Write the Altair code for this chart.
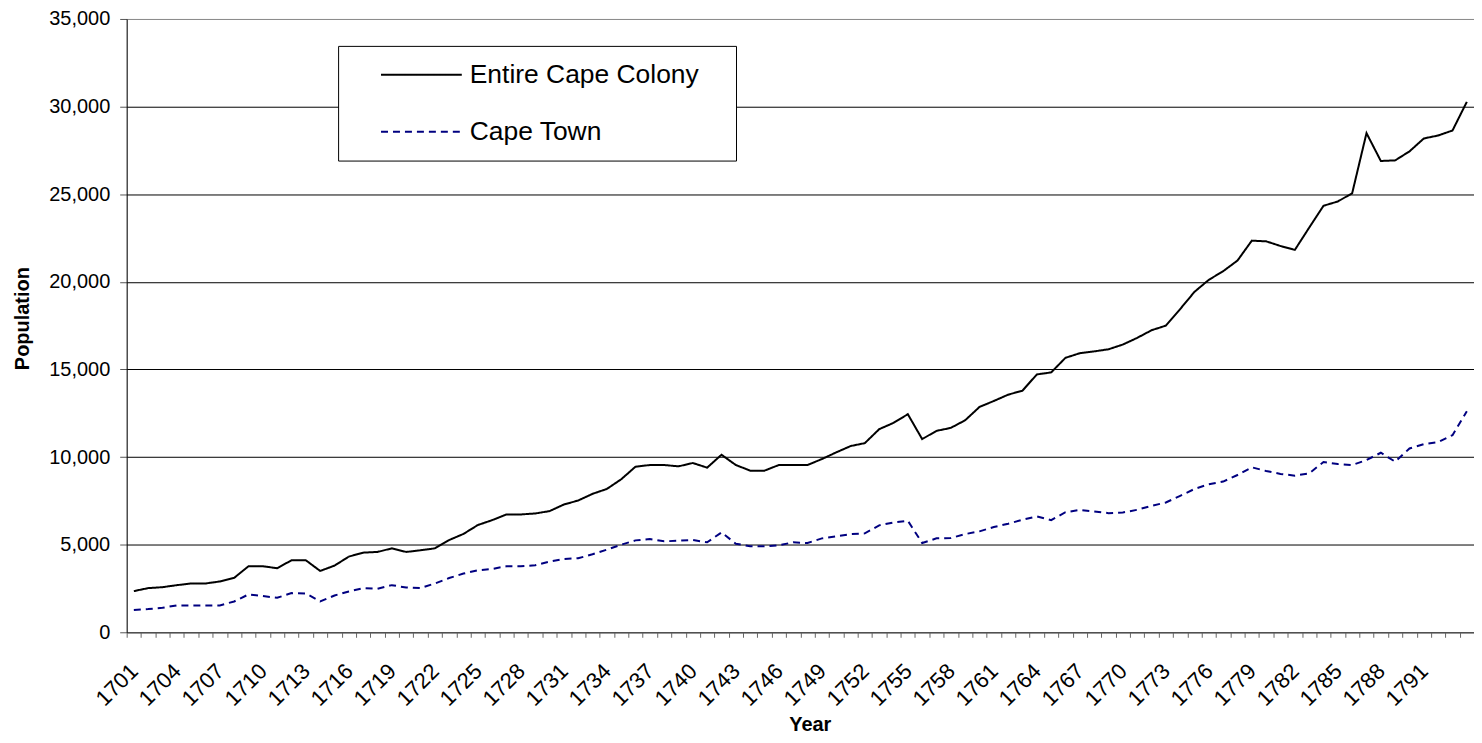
import altair as alt
import pandas as pd

years = list(range(1701, 1795))

colony = [2350, 2520, 2575, 2690, 2785, 2785, 2900, 3105, 3770, 3770,
          3655, 4110, 4110, 3500, 3805, 4320, 4545, 4585, 4790, 4585,
          4680, 4790, 5265, 5615, 6120, 6400, 6725, 6725, 6780, 6915,
          7290, 7520, 7900, 8180, 8730, 9450, 9545, 9545, 9470, 9660,
          9395, 10130, 9545, 9225, 9225, 9545, 9545, 9545, 9885, 10265,
          10625, 10795, 11590, 11950, 12445, 11025, 11495, 11665, 12100, 12860,
          13200, 13560, 13790, 14715, 14830, 15665, 15925, 16030, 16150, 16420,
          16800, 17235, 17500, 18445, 19430, 20115, 20605, 21215, 22350, 22310,
          22045, 21820, 23090, 24340, 24585, 25055, 28485, 26895, 26930, 27445,
          28180, 28350, 28635, 30270]

town = [1270, 1325, 1400, 1535, 1535, 1535, 1535, 1760, 2160, 2065,
        1970, 2235, 2215, 1760, 2100, 2330, 2520, 2480, 2690, 2555,
        2520, 2785, 3095, 3350, 3540, 3615, 3770, 3770, 3825, 4035,
        4185, 4225, 4450, 4715, 5000, 5245, 5320, 5190, 5225, 5265,
        5135, 5700, 5055, 4905, 4905, 4960, 5135, 5095, 5360, 5475,
        5605, 5645, 6100, 6270, 6365, 5095, 5360, 5380, 5605, 5760,
        6005, 6195, 6420, 6610, 6400, 6855, 6980, 6895, 6800, 6835,
        6990, 7215, 7405, 7785, 8180, 8450, 8600, 8975, 9415, 9205,
        9035, 8940, 9070, 9715, 9600, 9545, 9830, 10245, 9735, 10490,
        10740, 10850, 11250, 12615]

series_names = ["Entire Cape Colony", "Cape Town"]
series_colors = ["#000000", "#000080"]
series_dashes = [[1, 0], [7, 5]]
y_ticks = [0, 5000, 10000, 15000, 20000, 25000, 30000, 35000]

df = pd.concat([
    pd.DataFrame({"year": years, "population": colony, "series": series_names[0]}),
    pd.DataFrame({"year": years, "population": town, "series": series_names[1]}),
])

FONT = "Liberation Sans"

legend = alt.Legend(
    title=None,
    orient="none", legendX=212, legendY=27,
    strokeColor="#000000", fillColor="#ffffff", padding=15,
    labelFont=FONT, labelFontSize=26.5, labelColor="#000000",
    symbolType="M1.08,0H7.31M27,0", symbolSize=676, symbolStrokeWidth=2,
    labelOffset=89, rowPadding=29, labelLimit=600,
)

lines = alt.Chart(df).mark_line(strokeWidth=2).encode(
    x=alt.X(
        "year:O",
        bandPosition=0.5,
        scale=alt.Scale(type="band", paddingInner=0, paddingOuter=0),
        axis=alt.Axis(
            title="Year", titleFont=FONT, titleFontSize=20, titleFontWeight="bold",
            titleColor="#000000", titleX=685, titleY=98, titleBaseline="alphabetic",
            titleAlign="center",
            labelFont=FONT, labelFontSize=22, labelColor="#000000",
            labelAngle=-45, labelAlign="right", labelBaseline="middle",
            labelPadding=30, labelOverlap=False,
            labelExpr="(datum.value - 1701) % 3 == 0 && datum.value <= 1791 ? '' + datum.value : ''",
            tickBand="extent", tickSize=5, tickColor="#666666",
            domainColor="#555555", grid=False,
        ),
    ),
    y=alt.Y(
        "population:Q",
        scale=alt.Scale(domain=[0, 35000], nice=False),
        axis=alt.Axis(
            title="Population", titleFont=FONT, titleFontSize=20, titleFontWeight="bold",
            titleColor="#000000", titleX=-98, titleY=300, titleAngle=270,
            titleAlign="center", titleBaseline="alphabetic",
            values=y_ticks, format=",.0f",
            labelFont=FONT, labelFontSize=20, labelColor="#000000", labelPadding=10,
            tickSize=7, tickColor="#555555", domainColor="#000000",
            gridColor=alt.condition("datum.value == 35000", alt.value("#888888"), alt.value("#000000")),
            gridWidth=1,
        ),
    ),
    color=alt.Color("series:N", scale=alt.Scale(domain=series_names, range=series_colors), legend=legend),
    strokeDash=alt.StrokeDash("series:N", scale=alt.Scale(domain=series_names, range=series_dashes), legend=legend),
)

chart = lines.properties(
    width=1351, height=615,
    autosize="none",
    padding={"left": 119, "top": 10, "right": 0, "bottom": 102},
).configure_view(stroke=None).configure(background="#ffffff")

chart.save("out.html", embed_options={"renderer": "svg", "actions": False})
